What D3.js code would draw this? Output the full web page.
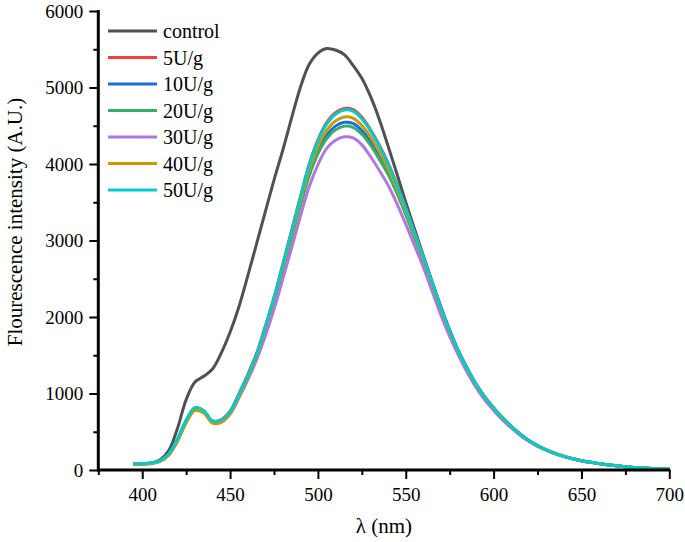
<!DOCTYPE html>
<html><head><meta charset="utf-8">
<script src="https://cdn.jsdelivr.net/npm/d3@7"></script>
<style>body{margin:0;background:#fff} svg{display:block}</style>
</head><body><svg id="chart" width="685" height="542"></svg>
<script>
const wavelengths = [395,400,405,410,415,420,425,430,435,440,445,450,455,460,465,470,475,480,485,490,495,500,505,510,515,520,525,530,535,540,545,550,555,560,565,570,575,580,585,590,595,600,605,610,615,620,625,630,635,640,645,650,655,660,665,670,675,680,685,690,695,700];

const seriesNames = ["control","5U/g","10U/g","20U/g","30U/g","40U/g","50U/g"];
const seriesColors = ["#515151","#F14040","#1A6FDF","#37AD6B","#B177DE","#CC9900","#00CBCC"];

const control = [85,86,92,130,250,540,920,1150,1225,1320,1530,1800,2130,2530,2950,
  3370,3790,4180,4600,5000,5300,5450,5510,5490,5430,5290,5120,4880,4580,4230,3870,3500,3150,2800,2460,2135,1830,
  1560,1330,1125,955,812,682,571,471,386,318,263,217,179,148,122,100,84,68,55,44,34,26,19,14,10];
const u5 = [78,80,88,118,205,392,642,808,772,642,658,768,995,1245,1518,
  1875,2255,2690,3130,3570,3995,4315,4540,4670,4725,4710,4610,4445,4245,4010,3730,3430,3105,2785,2452,2122,1821,
  1552,1322,1121,951,811,681,571,471,386,317,262,217,178,147,122,100,84,68,55,44,34,26,19,14,10];
const u10 = [80,82,89,119,207,396,646,810,770,637,650,756,980,1225,1492,
  1846,2218,2632,3056,3480,3876,4172,4376,4495,4545,4530,4438,4290,4100,3895,3640,3356,3052,2748,2426,2104,1812,
  1546,1318,1119,949,809,679,569,469,385,316,261,216,178,147,122,100,84,68,55,44,34,26,19,14,10];
const u20 = [79,81,88,117,204,390,640,805,768,634,646,752,975,1218,1485,
  1838,2208,2617,3036,3455,3843,4132,4331,4446,4495,4480,4390,4245,4060,3862,3615,3336,3037,2738,2418,2099,1809,
  1545,1317,1118,948,808,678,568,468,384,316,261,216,178,147,122,100,84,68,55,44,34,26,19,14,10];
const u30 = [80,81,87,115,200,385,635,800,762,627,633,730,940,1175,1435,
  1747,2100,2495,2900,3315,3702,3990,4205,4310,4355,4340,4250,4095,3915,3720,3480,3215,2935,2650,2337,2025,1747,
  1500,1275,1080,915,780,655,550,455,375,307,256,212,175,145,120,98,83,67,54,43,33,25,18,13,9];
const u40 = [74,75,82,108,190,370,615,778,745,612,623,735,958,1205,1478,
  1856,2232,2653,3084,3515,3921,4228,4439,4563,4615,4600,4504,4350,4155,3940,3675,3384,3073,2762,2436,2111,1815,
  1548,1319,1119,949,809,679,569,469,385,316,261,216,178,147,122,100,84,68,55,44,34,26,19,14,10];
const u50 = [80,82,90,120,210,400,650,815,775,640,653,760,985,1230,1500,
  1870,2250,2680,3120,3560,3980,4300,4520,4650,4705,4690,4590,4430,4230,4000,3720,3420,3100,2780,2450,2120,1820,
  1550,1320,1120,950,810,680,570,470,385,318,262,216,178,147,122,100,84,68,55,44,34,26,19,14,10];

const xMajorTicks = [400,450,500,550,600,650,700];
const xMinorTicks = [375,425,475,525,575,625,675];
const yMajorTicks = [0,1000,2000,3000,4000,5000,6000];
const yMinorTicks = [500,1500,2500,3500,4500,5500];
const xTitle = "\u03bb (nm)";
const yTitle = "Flourescence intensity (A.U.)";

const seriesValues = [control,u5,u10,u20,u30,u40,u50];

const svg = d3.select("#chart");
const font = "'Liberation Serif','Times New Roman',serif";
const x = d3.scaleLinear().domain([375,700]).range([98.3,669.3]);
const y = d3.scaleLinear().domain([0,6000]).range([470,11]);

// curves
const line = d3.line().x(d=>x(d[0])).y(d=>y(d[1])).curve(d3.curveCatmullRom.alpha(0.5));
seriesValues.forEach((vals,i)=>{
  svg.append("path")
    .datum(wavelengths.map((w,j)=>[w,vals[j]]))
    .attr("fill","none").attr("stroke",seriesColors[i])
    .attr("stroke-width",3).attr("stroke-linejoin","round")
    .attr("d",line);
});

// axes
function styleAxis(g){
  g.selectAll(".tick line").attr("stroke","#000").attr("stroke-width",2);
  g.selectAll("text").attr("font-family",font).attr("font-size",19).attr("fill","#000");
  g.select(".domain").remove();
}
const gx = svg.append("g").attr("transform","translate(0,470)")
  .call(d3.axisBottom(x).tickValues(xMajorTicks).tickFormat(d3.format("d")).tickSize(9).tickPadding(9));
styleAxis(gx);
const gxm = svg.append("g").attr("transform","translate(0,470)")
  .call(d3.axisBottom(x).tickValues(xMinorTicks).tickFormat("").tickSize(5));
styleAxis(gxm);
const gy = svg.append("g").attr("transform","translate(98.3,0)")
  .call(d3.axisLeft(y).tickValues(yMajorTicks).tickFormat(d3.format("d")).tickSize(9).tickPadding(6));
styleAxis(gy);
const gym = svg.append("g").attr("transform","translate(98.3,0)")
  .call(d3.axisLeft(y).tickValues(yMinorTicks).tickFormat("").tickSize(5));
styleAxis(gym);

svg.append("line").attr("x1",x(375)).attr("x2",x(700)+1).attr("y1",470).attr("y2",470)
  .attr("stroke","#000").attr("stroke-width",3);
svg.append("line").attr("x1",98.3).attr("x2",98.3).attr("y1",10).attr("y2",471.5)
  .attr("stroke","#000").attr("stroke-width",3);

// titles
svg.append("text").attr("x",384).attr("y",533).attr("text-anchor","middle")
  .attr("font-family",font).attr("font-size",21).text(xTitle);
svg.append("text").attr("transform","translate(22,222) rotate(-90)").attr("text-anchor","middle")
  .attr("font-family",font).attr("font-size",21).text(yTitle);

// legend
const lg = svg.append("g");
seriesNames.forEach((n,i)=>{
  const yy = 31 + i*26.5;
  lg.append("line").attr("x1",108).attr("x2",157).attr("y1",yy).attr("y2",yy)
    .attr("stroke",seriesColors[i]).attr("stroke-width",3);
  lg.append("text").attr("x",163).attr("y",yy).attr("dy","0.35em")
    .attr("font-family",font).attr("font-size",20).text(n);
});
</script>
</body></html>
